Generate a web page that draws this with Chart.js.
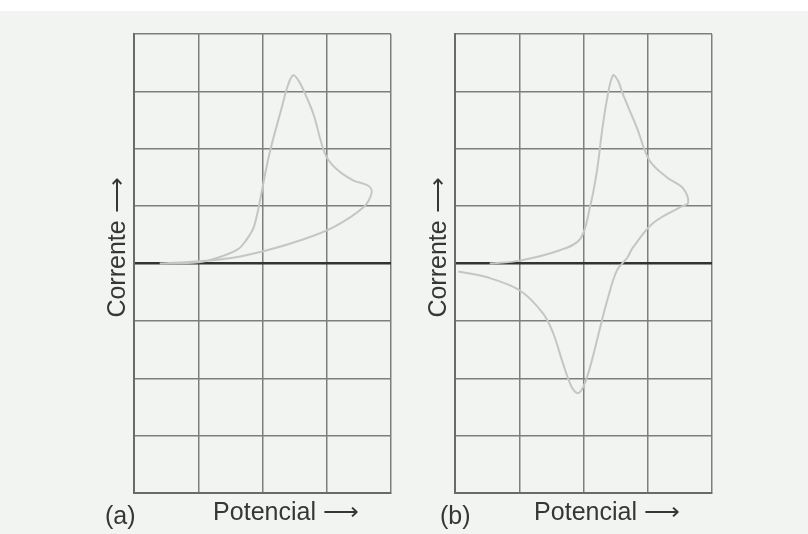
<!DOCTYPE html>
<html>
<head>
<meta charset="utf-8">
<script src="https://cdn.jsdelivr.net/npm/chart.js@4.4.1/dist/chart.umd.min.js"></script>
<style>
  html, body { margin: 0; padding: 0; background: #fff; }
  #page { position: absolute; left: 0; top: 11px; width: 808px; height: 523px; background: #f2f4f1; }
  .panel { position: absolute; top: 20px; width: 320px; height: 510px; }
  #panelA { left: 90px; }
  #panelB { left: 411px; }
</style>
</head>
<body>
<div id="page"></div>
<div class="panel" id="panelA"><canvas id="chartA" width="320" height="510"></canvas></div>
<div class="panel" id="panelB"><canvas id="chartB" width="320" height="510"></canvas></div>
<script>
// Axis text
const yLabel = 'Corrente \u27F6';
const xLabel = 'Potencial \u27F6';
const panelLabels = ['(a)', '(b)'];

// Grid divisions (no numbers on the axes)
const xDivisions = [0, 4];
const yDivisions = [-4, 4];

// (a) irreversible wave: forward sweep then return
const aPotential = [0.40, 1.00, 1.30, 1.62, 1.76, 1.86, 1.94, 2.03, 2.12, 2.30, 2.40, 2.48, 2.57, 2.69, 2.80, 2.97, 3.13, 3.41, 3.64, 3.70, 3.57, 3.10, 2.58, 2.07, 1.54, 1.03, 0.40];
const aCurrent   = [0.00, 0.02, 0.10, 0.25, 0.43, 0.62, 0.98, 1.50, 1.97, 2.72, 3.12, 3.28, 3.17, 2.89, 2.58, 1.92, 1.67, 1.45, 1.36, 1.24, 0.98, 0.63, 0.40, 0.23, 0.10, 0.04, 0.00];

// (b) reversible wave: forward sweep, switching point, return with cathodic peak
const bPotential = [0.54, 1.01, 1.63, 1.95, 2.10, 2.21, 2.29, 2.37, 2.46, 2.54, 2.61, 2.83, 3.03, 3.30, 3.55, 3.63, 3.50, 3.08, 2.77, 2.68, 2.52, 2.37, 2.26, 2.13, 2.02, 1.92, 1.82, 1.68, 1.53, 1.37, 1.01, 0.50, 0.05];
const bCurrent   = [0.00, 0.05, 0.23, 0.43, 0.98, 1.62, 2.32, 2.89, 3.28, 3.18, 2.96, 2.37, 1.79, 1.50, 1.31, 1.06, 0.98, 0.70, 0.28, 0.10, -0.12, -0.64, -1.11, -1.69, -2.09, -2.26, -2.16, -1.74, -1.22, -0.87, -0.47, -0.24, -0.14];

function toPoints(xs, ys) {
    return xs.map((x, i) => ({ x: x, y: ys[i] }));
}

// Draws the axis captions and panel letter
const captionPlugin = {
    id: 'captions',
    afterDraw(chart, args, opts) {
        const ctx = chart.ctx;
        const area = chart.chartArea;
        ctx.save();
        ctx.fillStyle = '#363636';
        ctx.font = '25px "Liberation Sans", Arial, sans-serif';
        ctx.textBaseline = 'alphabetic';

        // y caption, rotated
        ctx.save();
        ctx.translate(area.left - 9, (area.top + area.bottom) / 2 - 16);
        ctx.rotate(-Math.PI / 2);
        ctx.textAlign = 'center';
        ctx.fillText(yLabel, 0, 0);
        ctx.restore();

        // x caption
        ctx.textAlign = 'center';
        ctx.fillText(xLabel, area.left + 152, area.bottom + 27);

        // panel letter
        ctx.textAlign = 'left';
        ctx.fillText(opts.letter, area.left + opts.letterOffset, area.bottom + 31);
        ctx.restore();
    }
};

function makeChart(id, xs, ys, letter, letterOffset) {
    const ctx = document.getElementById(id).getContext('2d');
    return new Chart(ctx, {
        type: 'scatter',
        data: {
            datasets: [{
                data: toPoints(xs, ys),
                showLine: true,
                borderColor: '#c4c6c4',
                borderWidth: 2,
                pointRadius: 0,
                tension: 0.35
            }]
        },
        options: {
            responsive: false,
            animation: false,
            layout: { padding: { left: 44, top: 14, right: 19, bottom: 37 } },
            plugins: {
                legend: { display: false },
                tooltip: { enabled: false },
                captions: { letter: letter, letterOffset: letterOffset }
            },
            scales: {
                x: {
                    type: 'linear',
                    min: xDivisions[0],
                    max: xDivisions[1],
                    ticks: { display: false, stepSize: 1 },
                    grid: { color: '#7e7e7e', lineWidth: 1.5, drawTicks: false },
                    border: { color: '#6a6a6a', width: 2 }
                },
                y: {
                    type: 'linear',
                    min: yDivisions[0],
                    max: yDivisions[1],
                    ticks: { display: false, stepSize: 1 },
                    grid: {
                        drawTicks: false,
                        color: c => c.tick && c.tick.value === 0 ? '#333333' : '#7e7e7e',
                        lineWidth: c => c.tick && c.tick.value === 0 ? 2.5 : 1.5
                    },
                    border: { color: '#6a6a6a', width: 2 }
                }
            }
        },
        plugins: [captionPlugin]
    });
}

makeChart('chartA', aPotential, aCurrent, panelLabels[0], -29);
makeChart('chartB', bPotential, bCurrent, panelLabels[1], -15);
</script>
</body>
</html>
